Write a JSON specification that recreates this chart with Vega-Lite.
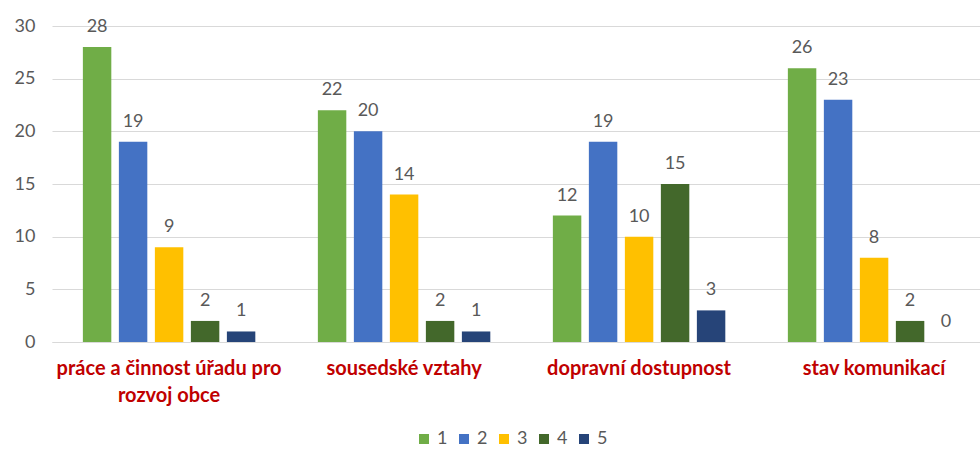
{
  "$schema": "https://vega.github.io/schema/vega-lite/v6.json",
  "width": 928,
  "height": 316,
  "autosize": {"type": "none"},
  "padding": {"left": 52, "top": 26, "right": 0, "bottom": 108},
  "config": {"view": {"stroke": null}, "font": "Lato"},
  "data": {
    "values": [
      {"kategorie": "práce a činnost úřadu pro rozvoj obce", "hodnoceni": "1", "pocet": 28},
      {"kategorie": "práce a činnost úřadu pro rozvoj obce", "hodnoceni": "2", "pocet": 19},
      {"kategorie": "práce a činnost úřadu pro rozvoj obce", "hodnoceni": "3", "pocet": 9},
      {"kategorie": "práce a činnost úřadu pro rozvoj obce", "hodnoceni": "4", "pocet": 2},
      {"kategorie": "práce a činnost úřadu pro rozvoj obce", "hodnoceni": "5", "pocet": 1},
      {"kategorie": "sousedské vztahy", "hodnoceni": "1", "pocet": 22},
      {"kategorie": "sousedské vztahy", "hodnoceni": "2", "pocet": 20},
      {"kategorie": "sousedské vztahy", "hodnoceni": "3", "pocet": 14},
      {"kategorie": "sousedské vztahy", "hodnoceni": "4", "pocet": 2},
      {"kategorie": "sousedské vztahy", "hodnoceni": "5", "pocet": 1},
      {"kategorie": "dopravní dostupnost", "hodnoceni": "1", "pocet": 12},
      {"kategorie": "dopravní dostupnost", "hodnoceni": "2", "pocet": 19},
      {"kategorie": "dopravní dostupnost", "hodnoceni": "3", "pocet": 10},
      {"kategorie": "dopravní dostupnost", "hodnoceni": "4", "pocet": 15},
      {"kategorie": "dopravní dostupnost", "hodnoceni": "5", "pocet": 3},
      {"kategorie": "stav komunikací", "hodnoceni": "1", "pocet": 26},
      {"kategorie": "stav komunikací", "hodnoceni": "2", "pocet": 23},
      {"kategorie": "stav komunikací", "hodnoceni": "3", "pocet": 8},
      {"kategorie": "stav komunikací", "hodnoceni": "4", "pocet": 2},
      {"kategorie": "stav komunikací", "hodnoceni": "5", "pocet": 0}
    ]
  },
  "encoding": {
    "x": {
      "field": "kategorie",
      "type": "nominal",
      "sort": ["práce a činnost úřadu pro rozvoj obce", "sousedské vztahy", "dopravní dostupnost", "stav komunikací"],
      "scale": {"paddingInner": 0.234, "paddingOuter": 0.0915, "align": 0.63},
      "axis": {
        "title": null,
        "labelAngle": 0,
        "labelColor": "#C00000",
        "labelFontWeight": "bold",
        "labelFontSize": 20,
        "labelPadding": 16,
        "labelLineHeight": 27,
        "labelLimit": 0,
        "ticks": false,
        "domain": true,
        "domainColor": "#D9D9D9",
        "labelExpr": "datum.value == 'práce a činnost úřadu pro rozvoj obce' ? ['práce a činnost úřadu pro', 'rozvoj obce'] : datum.value"
      }
    },
    "xOffset": {
      "field": "hodnoceni",
      "type": "nominal",
      "scale": {"paddingInner": 0.21, "paddingOuter": 0.105}
    },
    "y": {
      "field": "pocet",
      "type": "quantitative",
      "scale": {"domain": [0, 30]},
      "axis": {
        "title": null,
        "values": [0, 5, 10, 15, 20, 25, 30],
        "grid": true,
        "gridColor": "#D9D9D9",
        "domain": false,
        "ticks": false,
        "labelColor": "#595959",
        "labelFontSize": 18,
        "labelPadding": 17
      }
    }
  },
  "layer": [
    {
      "mark": {"type": "bar"},
      "encoding": {
        "color": {
          "field": "hodnoceni",
          "type": "nominal",
          "scale": {
            "domain": ["1", "2", "3", "4", "5"],
            "range": ["#70AD47", "#4472C4", "#FFC000", "#43682B", "#264478"]
          },
          "legend": {
            "title": null,
            "orient": "none",
            "legendX": 363,
            "legendY": 404,
            "direction": "horizontal",
            "symbolType": "square",
            "symbolSize": 100,
            "labelFontSize": 18,
            "labelColor": "#595959",
            "columnPadding": 7
          }
        }
      }
    },
    {
      "mark": {"type": "text", "baseline": "alphabetic", "dy": -15, "fontSize": 18, "color": "#595959"},
      "encoding": {"text": {"field": "pocet", "type": "quantitative"}}
    }
  ]
}
